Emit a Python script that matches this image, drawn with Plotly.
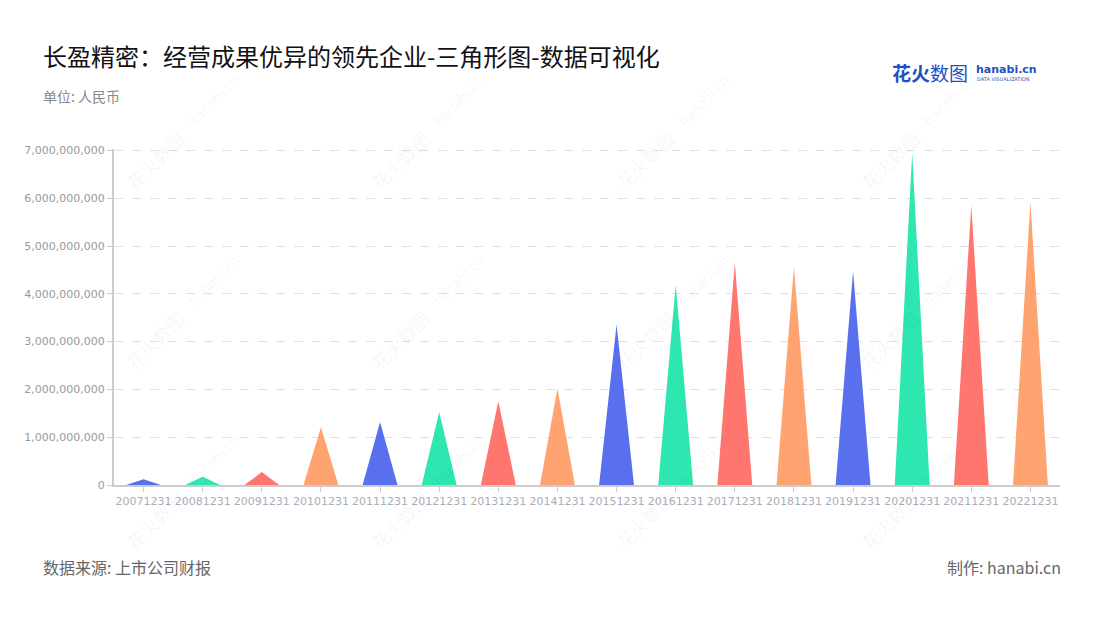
import plotly.graph_objects as go

# Data
dates = ['20071231', '20081231', '20091231', '20101231', '20111231', '20121231',
         '20131231', '20141231', '20151231', '20161231', '20171231', '20181231',
         '20191231', '20201231', '20211231', '20221231']
revenue = [0.12e9, 0.17e9, 0.27e9, 1.21e9, 1.32e9, 1.52e9, 1.75e9, 2.02e9,
           3.36e9, 4.19e9, 4.65e9, 4.56e9, 4.47e9, 6.95e9, 5.85e9, 5.92e9]
palette = ['#5870ee', '#2ee6af', '#ff766e', '#ffa370']

# page has an 8px body margin, so plot area is placed with that in mind
L, R, T, B = 106, 48, 141, 143
PW, PH = 1100 - L - R, 620 - T - B


def px(x, y):
    # page pixel -> paper coords
    return (x - 8 - L) / PW, (8 + T + PH - y) / PH


half_w = 0.295
fig = go.Figure()
for i, (d, v) in enumerate(zip(dates, revenue)):
    fig.add_trace(go.Scatter(
        x=[i - half_w, i, i + half_w, i - half_w],
        y=[0, v, 0, 0],
        mode='lines', fill='toself',
        fillcolor=palette[i % 4],
        line=dict(width=0, color=palette[i % 4]),
        name=d, hoverinfo='skip', showlegend=False,
    ))

annotations = []


def note(text, x, y, size, color, anchor='left', family='Noto Sans CJK SC', angle=0):
    ax, ay = px(x, y)
    annotations.append(dict(
        text=text, x=ax, y=ay, xref='paper', yref='paper', showarrow=False,
        xanchor=anchor, yanchor='middle', textangle=angle, borderpad=0,
        font=dict(family=family, size=size, color=color),
    ))


# faint watermark lattice
for x0 in [155, 400, 645, 890]:
    for y0 in [160, 340, 520]:
        note('花火数图', x0, y0, 18, 'rgba(0,0,0,0.05)', 'center', angle=-45)
        note('hanabi.cn', x0 + 58, y0 - 60, 14, 'rgba(0,0,0,0.05)', 'center', angle=-45)

note('长盈精密：经营成果优异的领先企业-三角形图-数据可视化', 42, 55, 24, '#111111')
note('单位: 人民币', 42, 96, 14, '#888888')
note('数据来源: 上市公司财报', 42, 567, 16, '#666666')
note('制作: hanabi.cn', 1062, 567, 16, '#666666', 'right')
note('<b>花火</b>数图', 891, 73, 19, '#1f4fc4')
note('<b>hanabi.cn</b>', 975, 70, 11, '#1f4fc4', family='DejaVu Sans')
note('DATA VISUALIZATION', 976, 79, 5, '#1f4fc4', family='DejaVu Sans')

fig.update_layout(
    width=1100, height=620,
    margin=dict(l=L, r=R, t=T, b=B),
    paper_bgcolor='white', plot_bgcolor='white',
    annotations=annotations,
    xaxis=dict(
        range=[-0.5, len(dates) - 0.5],
        tickvals=list(range(len(dates))), ticktext=dates,
        showgrid=False, zeroline=False,
        showline=True, linecolor='#cccccc', linewidth=2,
        ticks='outside', ticklen=5, tickcolor='#cccccc',
        tickfont=dict(family='DejaVu Sans', size=11, color='#a9adb8'),
    ),
    yaxis=dict(
        range=[0, 7.03e9], dtick=1e9, tickformat=',d',
        showgrid=True, gridcolor='#e0e0e0', griddash='dash', gridwidth=1,
        zeroline=False,
        showline=True, linecolor='#cccccc', linewidth=2,
        ticks='outside', ticklen=5, tickcolor='#cccccc',
        tickfont=dict(family='DejaVu Sans', size=11, color='#999999'),
    ),
)

fig.write_html('out.html')
